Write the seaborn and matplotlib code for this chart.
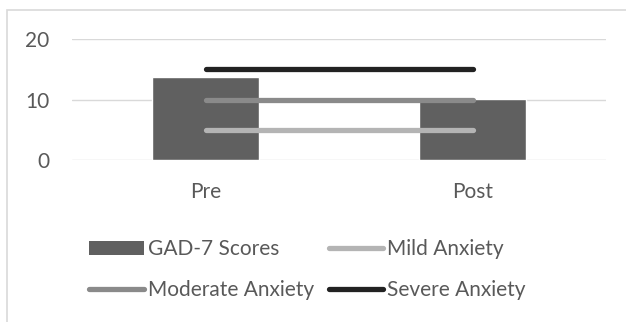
import matplotlib
matplotlib.use("Agg")
import matplotlib.pyplot as plt
from matplotlib.patches import Rectangle, Patch
from matplotlib.lines import Line2D
import seaborn as sns
import pandas as pd

# Data
phases = ["Pre", "Post"]
gad7_scores = [13.7, 10.1]
mild_anxiety = [5, 5]
moderate_anxiety = [10, 10]
severe_anxiety = [15, 15]
y_ticks = [0, 10, 20]

sns.set_theme(style="white")
plt.rcParams["font.family"] = ["Lato", "DejaVu Sans"]

TEXT = "#595959"
BAR = "#606060"
MILD = "#b4b4b4"
MODERATE = "#8a8a8a"
SEVERE = "#222222"
GRID = "#d9d9d9"

fig = plt.figure(figsize=(6.26, 3.22), dpi=100)
ax = fig.add_axes([72 / 626, 1 - 160 / 322, 534 / 626, 121 / 322])

bars = pd.DataFrame({"phase": phases, "score": gad7_scores})
sns.barplot(data=bars, x="phase", y="score", color=BAR, width=0.4,
            saturation=1, ax=ax, zorder=2)

levels = [("Mild Anxiety", mild_anxiety, MILD),
          ("Moderate Anxiety", moderate_anxiety, MODERATE),
          ("Severe Anxiety", severe_anxiety, SEVERE)]
for name, vals, col in levels:
    df = pd.DataFrame({"pos": range(len(phases)), "val": vals})
    sns.lineplot(data=df, x="pos", y="val", color=col, linewidth=3.8,
                 solid_capstyle="round", ax=ax, zorder=3)

ax.set_xlim(-0.5, 1.5)
ax.set_ylim(0, 20)
ax.set_yticks(y_ticks)
ax.set_xticks(range(len(phases)))
ax.set_xticklabels(phases)
ax.set_xlabel("")
ax.set_ylabel("")
ax.grid(axis="y", color=GRID, linewidth=1, zorder=0)
ax.set_axisbelow(True)
for s in ax.spines.values():
    s.set_visible(False)
ax.tick_params(axis="both", length=0, colors=TEXT, labelsize=15)
ax.tick_params(axis="x", pad=16)
ax.tick_params(axis="y", pad=16.5)

# Chart area frame
fig.patches.append(Rectangle((7 / 626, -0.1), 1.0, 1 - 10 / 322 + 0.1,
                             transform=fig.transFigure, fill=False,
                             edgecolor=GRID, linewidth=1.2))

# Legend entries laid out row by row (matplotlib fills columns first)
handles = [
    Patch(facecolor=BAR, edgecolor="none"),
    Line2D([], [], color=MODERATE, linewidth=3.8, solid_capstyle="round"),
    Line2D([], [], color=MILD, linewidth=3.8, solid_capstyle="round"),
    Line2D([], [], color=SEVERE, linewidth=3.8, solid_capstyle="round"),
]
labels = ["GAD-7 Scores", "Moderate Anxiety", "Mild Anxiety", "Severe Anxiety"]
fig.legend(handles, labels, ncol=2, loc="upper left",
           bbox_to_anchor=(79 / 626, 1 - 229 / 322), frameon=False,
           fontsize=15, labelcolor=TEXT, handlelength=2.6,
           handleheight=0.7, handletextpad=0.2, columnspacing=0.72,
           labelspacing=1.0, borderpad=0)

fig.savefig("out.png", dpi=100)
